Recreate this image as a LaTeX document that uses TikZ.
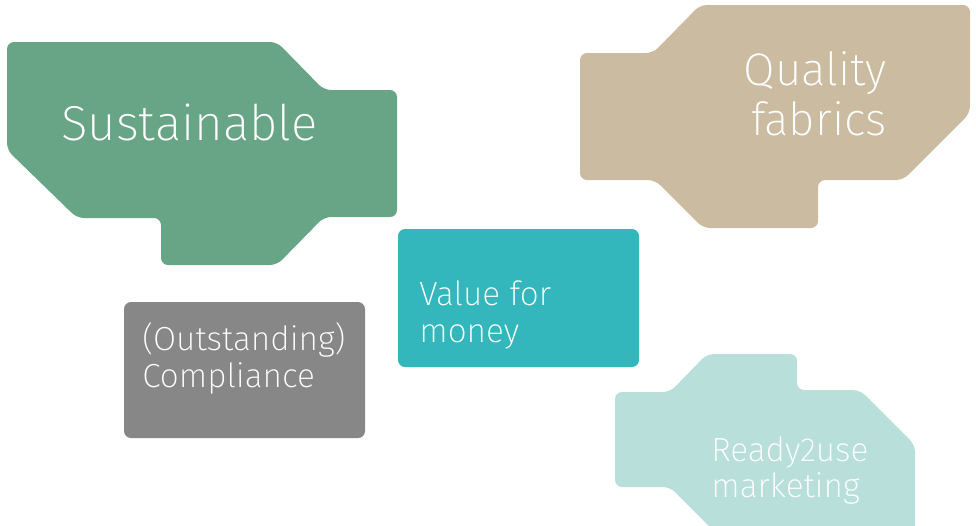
\documentclass[tikz,border=0pt]{standalone}
\usepackage{fontspec}
\setmainfont{Fira Sans ExtraLight}
\definecolor{sage}{HTML}{67A586}
\definecolor{sand}{HTML}{CBBBA0}
\definecolor{lagoon}{HTML}{33B7BC}
\definecolor{stone}{HTML}{878787}
\definecolor{mint}{HTML}{B8DFDA}
\begin{document}
\begin{tikzpicture}[x=0.02cm,y=-0.02cm,
	blob/.style={rounded corners=4pt},
	bigtext/.style={white,inner sep=0pt,anchor=base west,align=left,font=\fontsize{28}{34}\selectfont},
	smalltext/.style={white,inner sep=0pt,anchor=base west,align=left,font=\fontsize{19}{21}\selectfont}]
	\useasboundingbox (0,0) rectangle (976,525);
	\clip (0,0) rectangle (976,525);
	% the five blocks
	\fill[blob,sage] (7,42) -- (277,42) -- (324,90) -- (397,90) -- (397,217) -- (324,217)
		-- (277,265) -- (161,265) -- (161,218) -- (77,218) -- (7,150) -- cycle;
	\fill[blob,sand] (700,5) -- (970,5) -- (970,113) -- (903,180) -- (818,180) -- (818,228)
		-- (703,228) -- (655,180) -- (580,180) -- (580,53) -- (653,53) -- cycle;
	\fill[blob,lagoon] (398,229) rectangle (639,367);
	\fill[blob,stone] (124,302) rectangle (365,438);
	\fill[blob,mint] (707,354) -- (797,354) -- (797,390) -- (860,390) -- (915,445) -- (915,560)
		-- (743,560) -- (670,487) -- (615,487) -- (615,392) -- (670,392) -- cycle;
	% labels (multi-line nodes sit on the baseline of their last line)
	\node[bigtext] (sustainable) at (61,140) {Sustainable};
	\node[bigtext,anchor=base east,align=right,font=\fontsize{26}{28.3}\selectfont] (quality) at (887,135) {Quality\\fabrics};
	\node[smalltext] (value) at (419,342) {Value for\\money};
	\node[smalltext] (compliance) at (142,387) {(Outstanding)\\Compliance};
	\node[smalltext,font=\fontsize{19}{20.4}\selectfont] (ready) at (711,497) {Ready2use\\marketing};
\end{tikzpicture}
\end{document}
